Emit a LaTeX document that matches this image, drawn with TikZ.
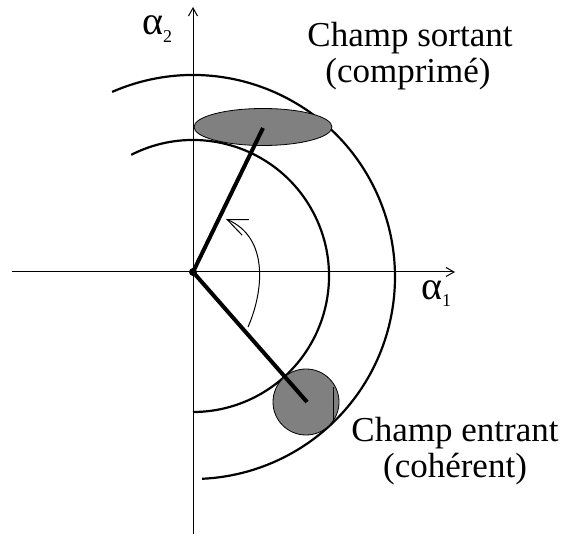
\documentclass[tikz,border=0pt]{standalone}
\usepackage{fontspec}
\setmainfont{Liberation Serif}
\usetikzlibrary{arrows.meta}
\definecolor{blobgray}{RGB}{128,128,128}
\begin{document}
\begin{tikzpicture}[x=1pt,y=-1pt,
  axis/.style={line width=1pt,-{Straight Barb[length=8pt,width=9pt]}},
  circ/.style={line width=2.2pt},
  vec/.style={line width=4pt},
  blob/.style={draw=black,line width=0.8pt,fill=blobgray},
  rot/.style={line width=1pt,-{Straight Barb[length=20pt,width=17pt]}},
  lbl/.style={font=\fontsize{35}{36}\selectfont,inner sep=0pt,anchor=base},
  albl/.style={font=\fontsize{40}{40}\selectfont,inner sep=0pt,anchor=base west}]
\useasboundingbox (0,0) rectangle (563,534);
\coordinate (O) at (193,272);
\coordinate (xl) at (12,272);
\coordinate (xr) at (455,272);
\coordinate (yb) at (193,534);
\coordinate (yt) at (193,7);
\draw[axis] (xl) -- (xr);
\draw[axis] (yb) -- (yt);
% circles of constant amplitude
\coordinate (Ci) at (193,276);
\coordinate (Co) at (193,277);
\draw[circ] (Ci) ++(-117:136) arc[start angle=-117,end angle=90,radius=136];
\draw[circ] (Co) ++(-113.6:202) arc[start angle=-113.6,end angle=87.4,radius=202];
% uncertainty blobs
\coordinate (E) at (263,127);
\coordinate (B) at (306,402);
\draw[blob] (E) ellipse[x radius=69,y radius=18.5];
\draw[blob] (B) circle[radius=33];
\coordinate (m1) at (333,387);
\coordinate (m2) at (333,422);
\draw[line width=1pt] (m1) -- (m2);
% vectors
\coordinate (Vs) at (263,128);
\coordinate (Ve) at (307,402);
\draw[vec] (O) -- (Vs);
\draw[vec] (O) -- (Ve);
\fill (O) circle[radius=4];
% rotation arrow
\coordinate (r0) at (248,327);
\coordinate (r1) at (226,219);
\draw[rot] (r0) .. controls (263,293) and (270,238) .. (r1);
% labels
\node[lbl] (s1) at (410,47) {Champ sortant};
\node[lbl] (s2) at (408,83) {(comprimé)};
\node[lbl] (e1) at (455,442) {Champ entrant};
\node[lbl] (e2) at (455,478) {(cohérent)};
\node[albl] (a2) at (142,35) {α\raisebox{-8pt}{\fontsize{18}{18}\selectfont 2}};
\node[albl] (a1) at (421,300) {α\raisebox{-7pt}{\fontsize{18}{18}\selectfont 1}};
\end{tikzpicture}
\end{document}
